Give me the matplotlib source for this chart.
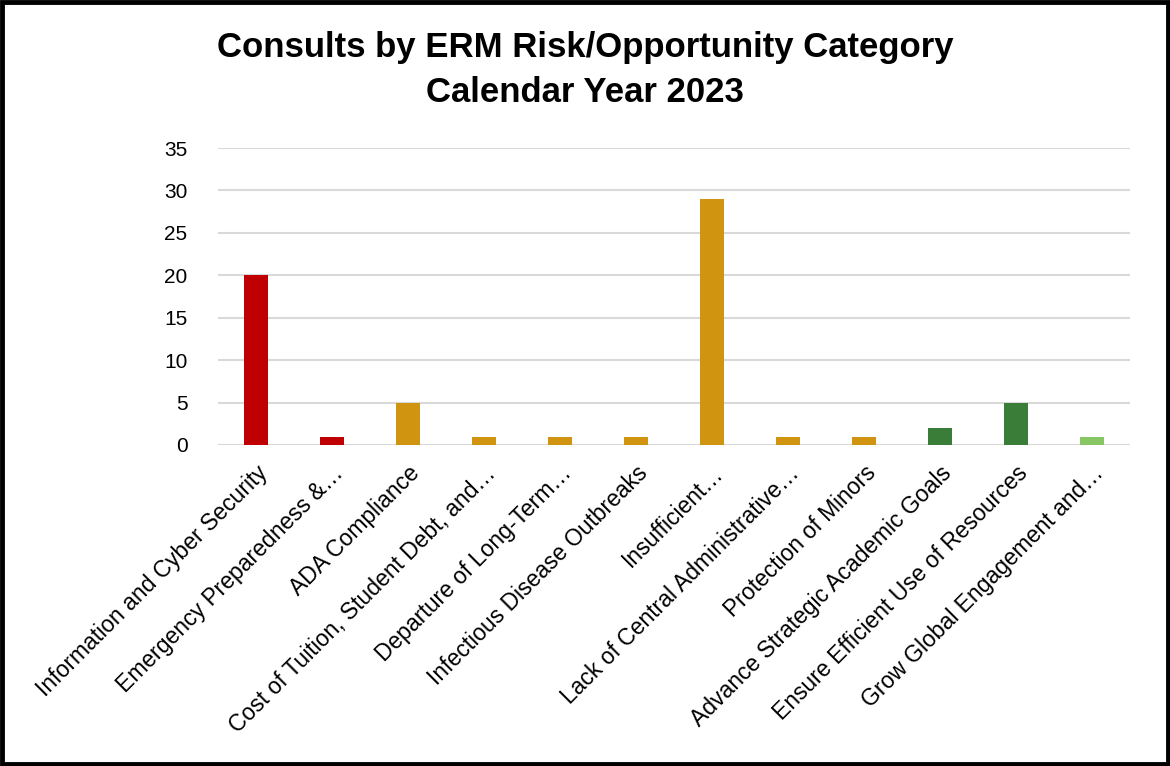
import matplotlib.pyplot as plt
from matplotlib.patches import Rectangle

categories = [
    'Information and Cyber Security',
    'Emergency Preparedness &…',
    'ADA Compliance',
    'Cost of Tuition, Student Debt, and…',
    'Departure of Long-Term…',
    'Infectious Disease Outbreaks',
    'Insufficient…',
    'Lack of Central Administrative…',
    'Protection of Minors',
    'Advance Strategic Academic Goals',
    'Ensure Efficient Use of Resources',
    'Grow Global Engagement and…',
]
consults = [20, 1, 5, 1, 1, 1, 29, 1, 1, 2, 5, 1]
bar_colors = ['#C00000', '#C00000', '#D09410', '#D09410', '#D09410', '#D09410',
              '#D09410', '#D09410', '#D09410', '#3A7D38', '#3A7D38', '#87C662']
yticks = [0, 5, 10, 15, 20, 25, 30, 35]

plt.rcParams['font.family'] = ['Liberation Sans', 'DejaVu Sans']

fig = plt.figure(figsize=(11.7, 7.66), dpi=100)
ax = fig.add_axes([218 / 1170, 1 - 445 / 766, 912 / 1170, 297 / 766])

x = range(len(categories))
ax.bar(x, consults, width=0.31, color=bar_colors, zorder=3)

ax.set_xlim(-0.5, len(categories) - 0.5)
ax.set_ylim(0, 35)
ax.set_yticks(yticks)
ax.set_xticks(list(x))
ax.set_xticklabels(categories, rotation=45, ha='right', rotation_mode='anchor', fontsize=16.5)
ax.tick_params(axis='y', labelsize=15, length=0, pad=22)
ax.tick_params(axis='x', length=0, pad=12)
ax.grid(axis='y', color='#D9D9D9', linewidth=1.5, zorder=0)
ax.set_axisbelow(True)
ax.spines[:].set_visible(False)

fig.text(0.5, 1 - 48 / 766, 'Consults by ERM Risk/Opportunity Category', ha='center', va='center',
         fontsize=25, fontweight='bold')
fig.text(0.5, 1 - 93 / 766, 'Calendar Year 2023', ha='center', va='center',
         fontsize=25, fontweight='bold')

# black frame round the whole picture
fig.patches.append(Rectangle((0.002, 0.003), 0.996, 0.994, transform=fig.transFigure,
                             fill=False, edgecolor='black', linewidth=3.5))

fig.savefig('out.png', dpi=100)
